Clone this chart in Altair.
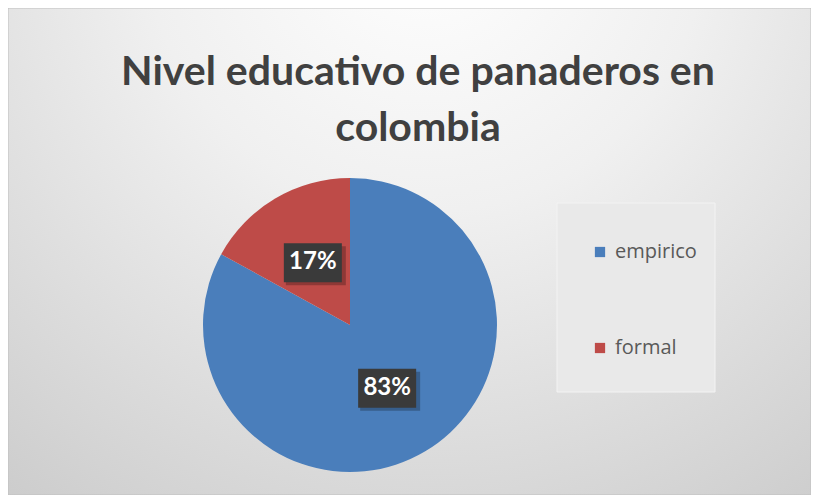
import altair as alt
import pandas as pd
import numpy as np

# ---- data ----
categories = ["empirico", "formal"]
values = [83, 17]
labels = ["83%", "17%"]
colors = ["#4A7EBB", "#BE4B48"]
title_lines = ["Nivel educativo de panaderos en", "colombia"]

# ---- layout (chart pixels) ----
W, H = 803, 487
CX, CY, R = 342, 317, 147
LR = 73  # label radius

df = pd.DataFrame({"category": categories, "value": values, "label": labels,
                   "idx": list(range(len(categories)))})
tot = df["value"].sum()
cum = df["value"].cumsum() - df["value"] / 2
ang = cum / tot * 2 * np.pi
df["lx"] = CX + LR * np.sin(ang)
df["ly"] = CY - LR * np.cos(ang)

bg = alt.Chart(pd.DataFrame({"a": [0]})).mark_rect(
    fill={"gradient": "radial", "x1": 0.52, "y1": 0.1, "r1": 0.0,
          "x2": 0.52, "y2": 0.1, "r2": 1.0,
          "stops": [{"offset": 0, "color": "#FFFFFF"},
                    {"offset": 0.35, "color": "#F0F0F0"},
                    {"offset": 1, "color": "#C4C4C4"}]},
    stroke="#C0C0C0", strokeWidth=1,
).encode(x=alt.value(0), x2=alt.value(W), y=alt.value(0), y2=alt.value(H))

legend_box = alt.Chart(pd.DataFrame({"a": [0]})).mark_rect(
    fill="#E9E9E9", stroke="#F3F3F3", strokeWidth=1,
).encode(x=alt.value(549), x2=alt.value(707), y=alt.value(195), y2=alt.value(384))

title = alt.Chart(pd.DataFrame({"t": ["\n".join(title_lines)]})).mark_text(
    font="Lato", fontWeight="bold", fontSize=41, color="#404040",
    lineBreak="\n", lineHeight=56, align="center", baseline="alphabetic",
).encode(text="t:N", x=alt.value(410), y=alt.value(77))

pie = alt.Chart(df).mark_arc(radius=R).encode(
    theta=alt.Theta("value:Q", stack=True),
    order=alt.Order("idx:Q"),
    color=alt.Color("category:N",
                    scale=alt.Scale(domain=categories, range=colors),
                    legend=alt.Legend(
                        title=None, orient="none", legendX=582, legendY=234,
                        padding=0,
                        symbolType="square", symbolSize=105, symbolStrokeWidth=0,
                        labelFont="Open Sans", labelFontSize=20, labelColor="#595959",
                        labelOffset=5, rowPadding=76, direction="vertical")),
    x=alt.value(CX), y=alt.value(CY),
)

shadow = alt.Chart(df).mark_rect(color="#000000", opacity=0.25).transform_calculate(
    x1="datum.lx - 27", x2="datum.lx + 33", y1="datum.ly - 16", y2="datum.ly + 23"
).encode(x=alt.X("x1:Q", scale=None), x2="x2:Q",
         y=alt.Y("y1:Q", scale=None), y2="y2:Q")

box = alt.Chart(df).mark_rect(color="#3A3A3A").transform_calculate(
    x1="datum.lx - 29", x2="datum.lx + 29", y1="datum.ly - 19", y2="datum.ly + 20"
).encode(x=alt.X("x1:Q", scale=None), x2="x2:Q",
         y=alt.Y("y1:Q", scale=None), y2="y2:Q")

txt = alt.Chart(df).mark_text(
    font="Lato", fontWeight="bold", fontSize=24, color="#FFFFFF",
    align="center", baseline="middle",
).encode(x=alt.X("lx:Q", scale=None), y=alt.Y("ly:Q", scale=None), text="label:N")

chart = alt.layer(bg, legend_box, title, pie, shadow, box, txt).properties(
    width=W, height=H, autosize=alt.AutoSizeParams(type="none"), padding=0,
).configure_view(strokeWidth=0).resolve_scale(x="independent", y="independent")

chart.save("out.html", embed_options={"renderer": "svg", "actions": False})
